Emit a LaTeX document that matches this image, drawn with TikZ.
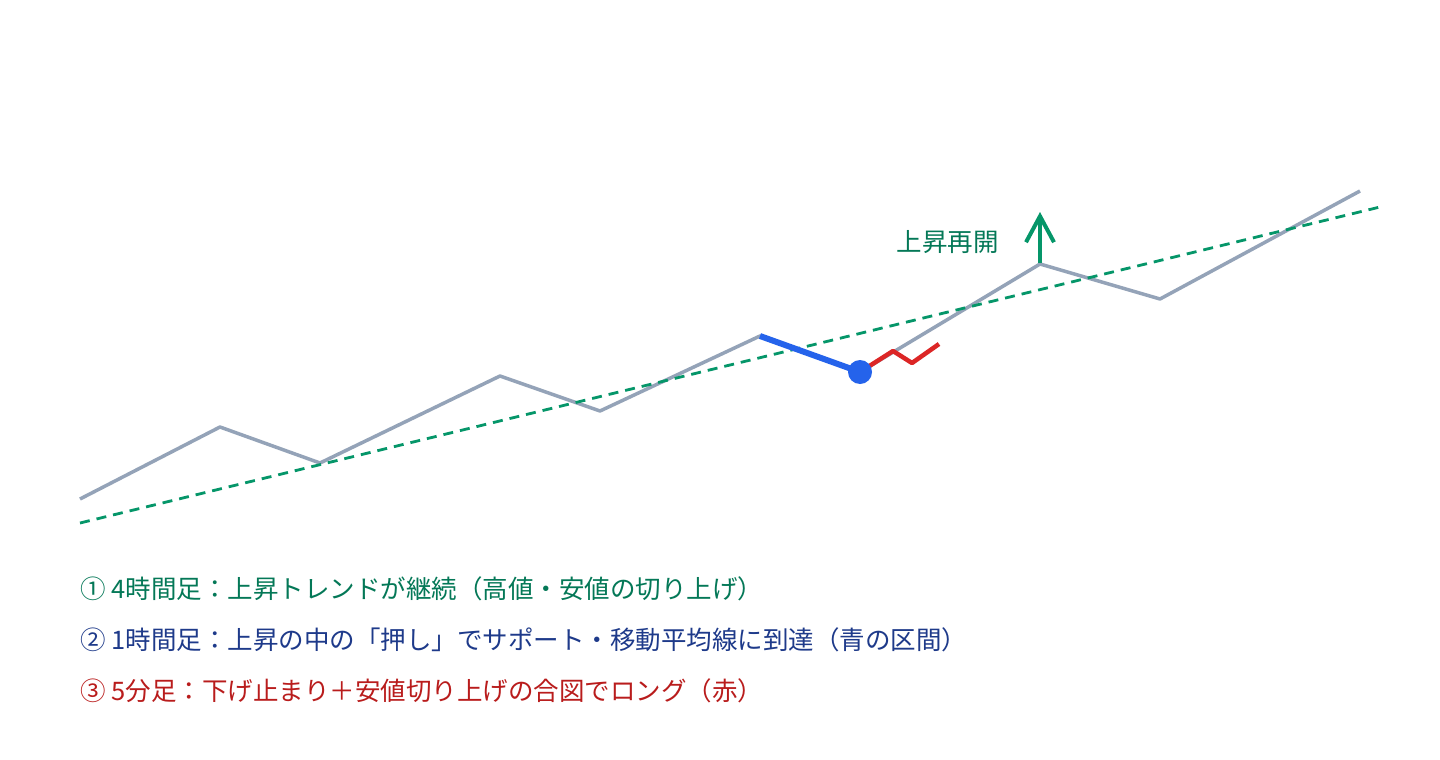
\documentclass[tikz,border=0pt]{standalone}
\usepackage{fontspec}
\setmainfont{Noto Sans CJK JP}
\usetikzlibrary{arrows.meta}

\definecolor{trendgray}{HTML}{94A3B8}
\definecolor{pullblue}{HTML}{2563EB}
\definecolor{entryred}{HTML}{DC2626}
\definecolor{mavgreen}{HTML}{059669}
\definecolor{notegreen}{HTML}{047857}
\definecolor{noteblue}{HTML}{1E3A8A}
\definecolor{notered}{HTML}{B91C1C}

\begin{document}
\begin{tikzpicture}[x=1pt,y=-1pt,
    note/.style={anchor=west, inner sep=0pt, font=\fontsize{25.5}{30}\selectfont},
    line join=round]
    \useasboundingbox[fill=white] (0,0) rectangle (1440,760);
    % 4h price path
    \coordinate (p0) at (80,499);
    \coordinate (p1) at (220,427);
    \coordinate (p2) at (320,463);
    \coordinate (p3) at (500,376);
    \coordinate (p4) at (600,411);
    \coordinate (p5) at (760,336);
    \coordinate (p6) at (860,372);
    \coordinate (p7) at (1040,264);
    \coordinate (p8) at (1160,299);
    \coordinate (p9) at (1360,191);
    \draw[trendgray, line width=3.5pt] (p0) -- (p1) -- (p2) -- (p3) -- (p4) -- (p5) -- (p6) -- (p7) -- (p8) -- (p9);
    % moving average
    \coordinate (m0) at (80,523);
    \coordinate (m1) at (1380,207);
    \draw[mavgreen, line width=2.8pt, dash pattern=on 10pt off 7pt] (m0) -- (m1);
    % 1h pullback
    \draw[pullblue, line width=6pt] (p5) -- (p6);
    % 5m entry
    \coordinate (r1) at (893,351);
    \coordinate (r2) at (912,363);
    \coordinate (r3) at (939,344);
    \draw[entryred, line width=4.5pt] (p6) -- (r1) -- (r2) -- (r3);
    \fill[pullblue] (p6) circle (12pt);
    % resume
    \coordinate (a0) at (1040,263);
    \coordinate (a1) at (1040,212);
    \draw[mavgreen, line width=4pt, -{Straight Barb[length=26pt,width=28pt]}] (a0) -- (a1);
    \node[note, anchor=east, text=notegreen] (resume) at (999,242) {上昇再開};
    % notes
    \node[note, text=notegreen] (n1) at (80,589) {① 4時間足：上昇トレンドが継続（高値・安値の切り上げ）};
    \node[note, text=noteblue] (n2) at (80,640) {② 1時間足：上昇の中の「押し」でサポート・移動平均線に到達（青の区間）};
    \node[note, text=notered] (n3) at (80,691) {③ 5分足：下げ止まり＋安値切り上げの合図でロング（赤）};
\end{tikzpicture}
\end{document}
